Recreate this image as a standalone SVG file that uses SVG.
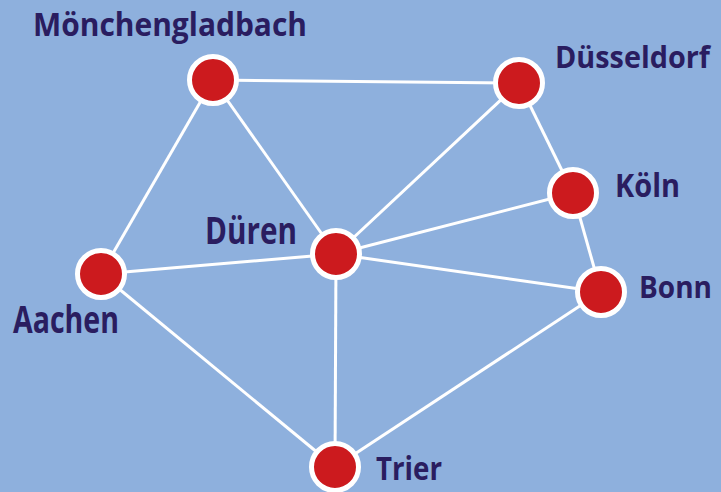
<svg xmlns="http://www.w3.org/2000/svg" width="721" height="492" viewBox="0 0 721 492">
<style>
.edge{stroke:#ffffff;stroke-width:3;fill:none}
.node{fill:#cc1a1e;stroke:#ffffff;stroke-width:5}
.lbl{font-family:"Open Sans","Noto Sans","Liberation Sans",sans-serif;font-weight:700;fill:#2a1d60}
.s{font-size:32px}
.e{font-size:30px}
.l{font-size:38px}
</style>
<rect width="721" height="492" fill="#8eb0dd"/>
<g id="connectors">
<line class="edge" x1="213" y1="80" x2="519" y2="83"/>
<line class="edge" x1="213" y1="80" x2="101" y2="274"/>
<line class="edge" x1="213" y1="80" x2="336" y2="254"/>
<line class="edge" x1="519" y1="83" x2="573" y2="193"/>
<line class="edge" x1="519" y1="83" x2="336" y2="254"/>
<line class="edge" x1="573" y1="193" x2="336" y2="254"/>
<line class="edge" x1="573" y1="193" x2="601" y2="292"/>
<line class="edge" x1="601" y1="292" x2="336" y2="254"/>
<line class="edge" x1="601" y1="292" x2="335" y2="467"/>
<line class="edge" x1="336" y1="254" x2="101" y2="274"/>
<line class="edge" x1="336" y1="254" x2="335" y2="467"/>
<line class="edge" x1="101" y1="274" x2="335" y2="467"/>
</g>
<g id="moenchengladbach">
<circle class="node" cx="213" cy="80" r="23.5"/>
<text class="lbl s" x="33" y="36" textLength="274" lengthAdjust="spacingAndGlyphs">Mönchengladbach</text>
</g>
<g id="duesseldorf">
<circle class="node" cx="519" cy="83" r="23.5"/>
<text class="lbl e" x="555" y="68" textLength="155" lengthAdjust="spacingAndGlyphs">Düsseldorf</text>
</g>
<g id="koeln">
<circle class="node" cx="573" cy="193" r="23.5"/>
<text class="lbl s" x="615" y="197" textLength="65" lengthAdjust="spacingAndGlyphs">Köln</text>
</g>
<g id="bonn">
<circle class="node" cx="601" cy="292" r="23.5"/>
<text class="lbl e" x="639" y="298" textLength="73" lengthAdjust="spacingAndGlyphs">Bonn</text>
</g>
<g id="dueren">
<circle class="node" cx="336" cy="254" r="23.5"/>
<text class="lbl l" x="205" y="244" textLength="92" lengthAdjust="spacingAndGlyphs">Düren</text>
</g>
<g id="aachen">
<circle class="node" cx="101" cy="274" r="23.5"/>
<text class="lbl l" x="13" y="333" textLength="106" lengthAdjust="spacingAndGlyphs">Aachen</text>
</g>
<g id="trier">
<circle class="node" cx="335" cy="467" r="23.5"/>
<text class="lbl s" x="376" y="480" textLength="66" lengthAdjust="spacingAndGlyphs">Trier</text>
</g>
</svg>
